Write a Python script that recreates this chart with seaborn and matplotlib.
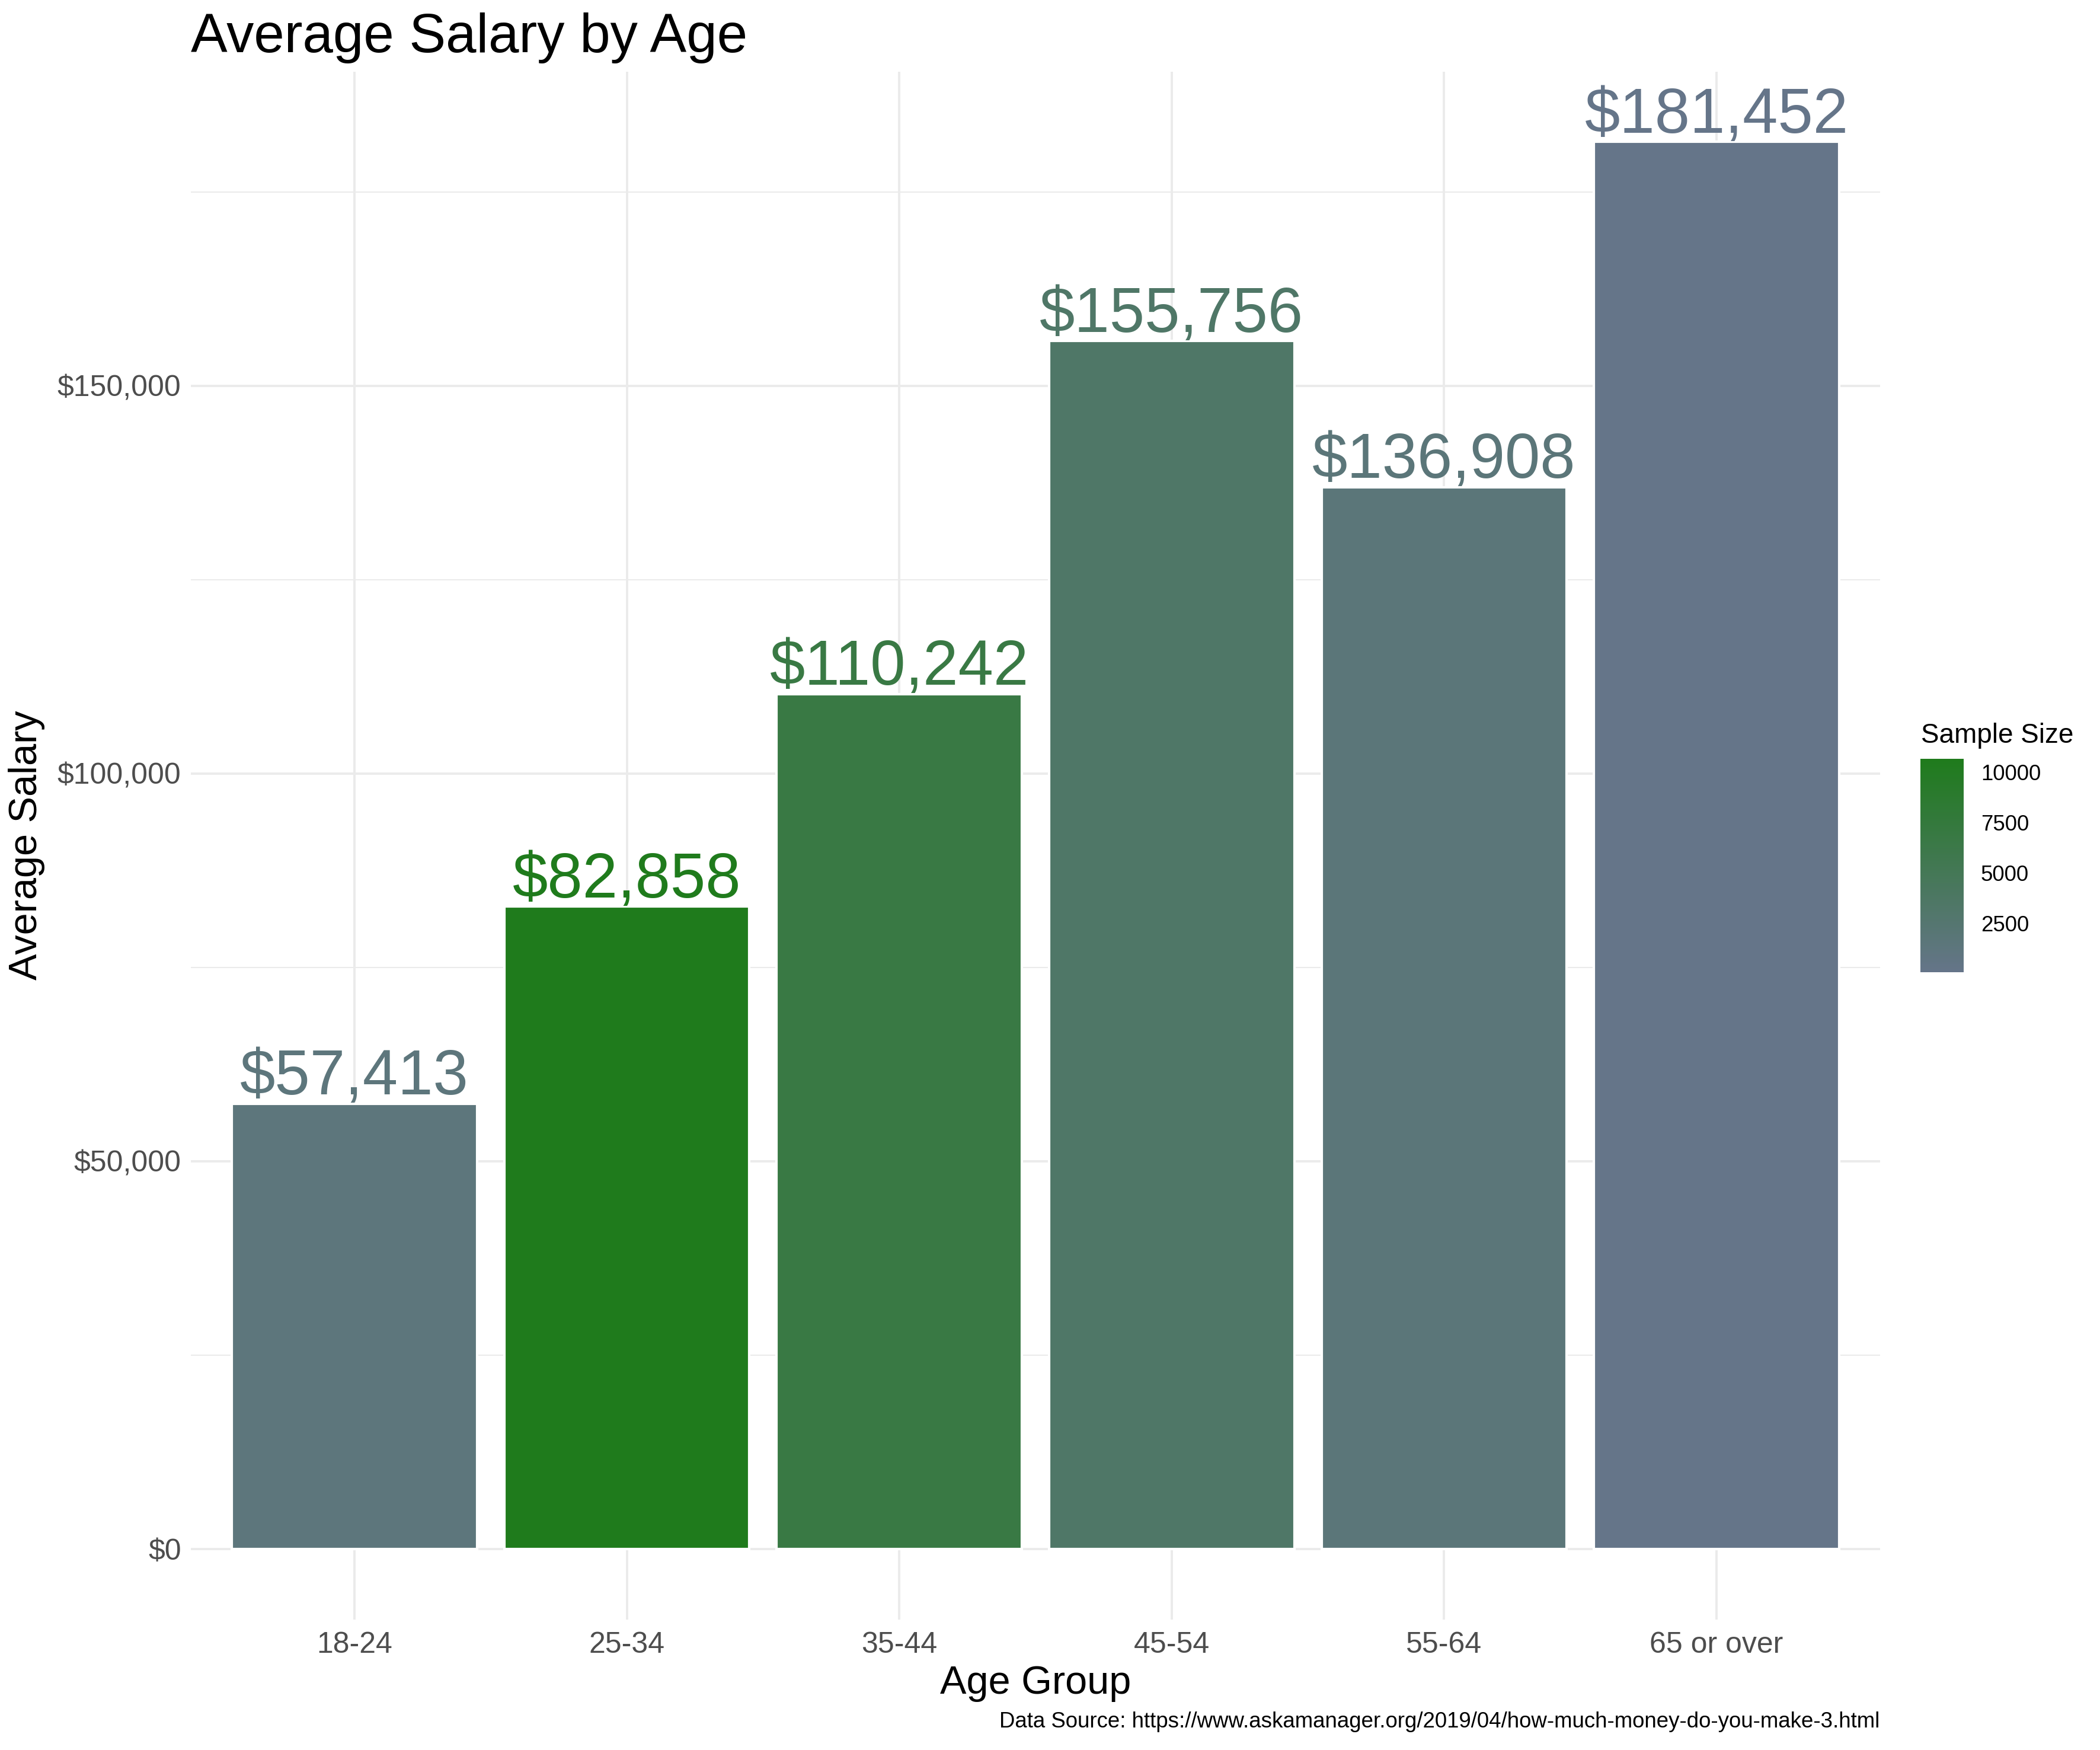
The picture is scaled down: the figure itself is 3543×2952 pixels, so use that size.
import numpy as np
import pandas as pd
import matplotlib
matplotlib.use("Agg")
import matplotlib.pyplot as plt
import matplotlib.colors as mcolors
import matplotlib.ticker as mticker
import seaborn as sns

age_groups = ["18-24", "25-34", "35-44", "45-54", "55-64", "65 or over"]
avg_salary = [57413, 82858, 110242, 155756, 136908, 181452]
sample_size = [1360, 10650, 6745, 3367, 1680, 95]

df = pd.DataFrame({"age": age_groups, "salary": avg_salary, "n": sample_size})

sns.set_theme(style="white")
plt.rcParams["font.family"] = ["Liberation Sans", "DejaVu Sans"]

cmap = mcolors.LinearSegmentedColormap.from_list("size", ["#657589", "#1F7B1C"])
norm = mcolors.Normalize(vmin=min(sample_size), vmax=max(sample_size))
pal = {a: cmap(norm(n)) for a, n in zip(age_groups, sample_size)}

W, H = 3543, 2952
L, R, T, B = 322.3, 3171.7, 120.5, 2731.6
fig = plt.figure(figsize=(W / 300, H / 300), dpi=300)
ax = fig.add_axes([L / W, 1 - B / H, (R - L) / W, (B - T) / H])

# grid first so bars sit on top
ax.set_axisbelow(True)
sns.barplot(data=df, x="age", y="salary", hue="age", palette=pal, order=age_groups,
            width=0.9, legend=False, saturation=1, ax=ax, zorder=2)

ax.set_xlim(-0.6, 5.6)
ax.set_ylim(-9073, 190525)
ax.yaxis.set_major_locator(mticker.FixedLocator([0, 50000, 100000, 150000]))
ax.yaxis.set_minor_locator(mticker.FixedLocator([25000, 75000, 125000, 175000]))
ax.yaxis.set_major_formatter(mticker.FuncFormatter(lambda v, p: f"${v:,.0f}"))
ax.grid(True, which="major", color="#EBEBEB", linewidth=0.95)
ax.grid(True, which="minor", axis="y", color="#EBEBEB", linewidth=0.5)
ax.tick_params(axis="both", which="both", length=0, labelsize=12, labelcolor="#4D4D4D")
ax.tick_params(axis="x", pad=5)
ax.tick_params(axis="y", pad=4)
for s in ax.spines.values():
    s.set_visible(False)
ax.set_xlabel("")
ax.set_ylabel("")

for i, (a, v) in enumerate(zip(age_groups, avg_salary)):
    ax.annotate(f"${v:,}", (i, v), xytext=(0, 3.7), textcoords="offset points",
                ha="center", va="baseline", fontsize=25.6, color=pal[a], zorder=3)

fig.text(L / W, 1 - 88 / H, "Average Salary by Age", fontsize=22.2, ha="left", va="baseline", color="black")
fig.text((L + R) / 2 / W, 1 - 2857 / H, "Age Group", fontsize=16, ha="center", va="baseline", color="black")
fig.text(45 / W, 1 - 1426 / H, "Average Salary", fontsize=16, rotation=90, ha="center", va="center", color="black")
fig.text(R / W, 1 - 2914 / H,
         "Data Source: https://www.askamanager.org/2019/04/how-much-money-do-you-make-3.html",
         fontsize=8.8, ha="right", va="baseline", color="black")

# colour bar for sample size
cax = fig.add_axes([3240 / W, 1 - 1640 / H, 72.7 / W, 360 / H])
sm = plt.cm.ScalarMappable(norm=norm, cmap=cmap)
cb = fig.colorbar(sm, cax=cax, ticks=[2500, 5000, 7500, 10000])
cb.outline.set_visible(False)
cb.ax.yaxis.set_major_formatter(mticker.FuncFormatter(lambda v, p: f"{v:.0f}"))
cb.ax.tick_params(direction="in", left=True, right=True, color="white", length=3.4, width=0.5,
                  labelsize=8.8, labelcolor="black", pad=7)
fig.text(3241 / W, 1 - 1253 / H, "Sample Size", fontsize=11, ha="left", va="baseline", color="black")

fig.savefig("out.png", dpi=300, facecolor="white")
